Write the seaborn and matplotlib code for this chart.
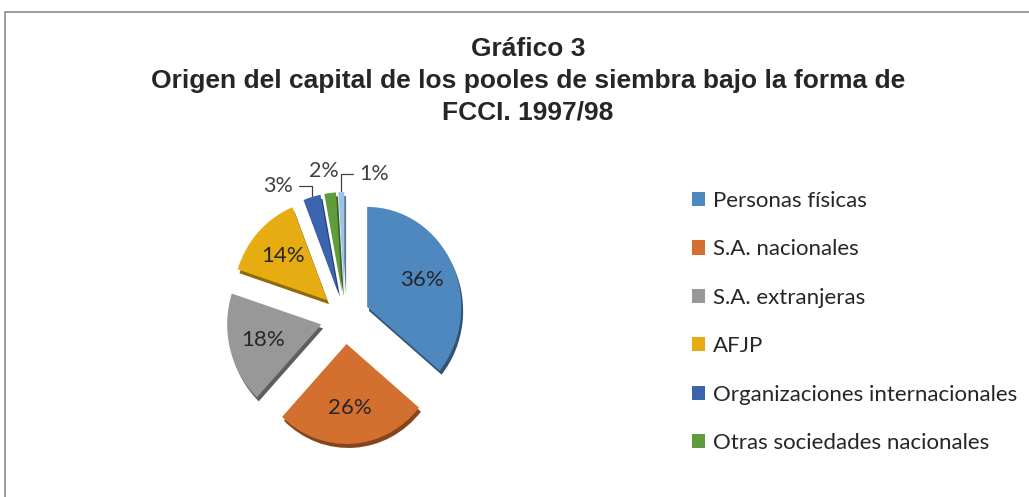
import numpy as np
import matplotlib
matplotlib.use("Agg")
import matplotlib.pyplot as plt
import matplotlib.colors as mcolors
from matplotlib.patches import Rectangle
import seaborn as sns

# data
categories = ["Personas físicas", "S.A. nacionales", "S.A. extranjeras", "AFJP",
              "Organizaciones internacionales", "Otras sociedades nacionales", "Otros"]
shares = [36, 26, 18, 14, 3, 2, 1]
colors = ["#4F88BE", "#D4702F", "#989898", "#E6AC12", "#3B63AE", "#5E9C3C", "#9DC3E6"]
title_lines = ["Gráfico 3", "Origen del capital de los pooles de siembra bajo la forma de", "FCCI. 1997/98"]

sns.set_theme(style="white")
plt.rcParams["font.family"] = ["Lato", "DejaVu Sans"]

fig = plt.figure(figsize=(10.29, 4.97), dpi=100)
fig.patch.set_facecolor("white")

# outer chart frame (runs off the right and bottom edges)
fig.patches.append(Rectangle((5 / 1029, -0.1), 1.2, (497 - 12) / 497 + 0.1,
                             transform=fig.transFigure, fill=False,
                             edgecolor="#8c8c8c", linewidth=1.2))

fig.text(0.513, 1 - 81 / 497, "\n".join(title_lines), ha="center", va="center",
         fontsize=19, fontweight="bold", linespacing=1.4,
         family=["Liberation Sans Narrow", "Liberation Sans", "DejaVu Sans"])

ax = fig.add_axes([185 / 1029, 19 / 497, 320 / 1029, 320 / 497])
ax.axis("off")

explode = [0.26] * len(shares)

# darker copy shifted down to fake the 3D depth
dark = [tuple(np.array(mcolors.to_rgb(c)) * 0.62) for c in colors]
ax.pie(shares, colors=dark, explode=explode, startangle=90, counterclock=False,
       center=(0.02, -0.04), wedgeprops=dict(linewidth=0))

wedges, _ = ax.pie(shares, colors=colors, explode=explode, startangle=90,
                   counterclock=False, wedgeprops=dict(linewidth=0))

ax.set_xlim(-1.70, 1.70)
ax.set_ylim(-1.60, 1.60)
ax.set_aspect("auto")

# percentage labels
small_text = {4: (-0.71, 1.32), 5: (-0.22, 1.47), 6: (0.31, 1.44)}
for i, (w, v) in enumerate(zip(wedges, shares)):
    mid = np.deg2rad((w.theta1 + w.theta2) / 2)
    cx, cy = w.center
    if i in small_text:
        tx, ty = small_text[i]
        xy = (cx + w.r * np.cos(mid), cy + w.r * np.sin(mid))
        arrow = None
        if i != 5:
            arrow = dict(arrowstyle="-", color="#404040", lw=0.9, shrinkA=2, shrinkB=1,
                         connectionstyle="angle,angleA=0,angleB=90,rad=0")
        ax.annotate(f"{v}%", xy=xy, xytext=(tx, ty), ha="center", va="center",
                    fontsize=15.5, color="#404040", arrowprops=arrow)
    else:
        ax.text(cx + 0.64 * np.cos(mid), cy + 0.64 * np.sin(mid), f"{v}%",
                ha="center", va="center", fontsize=16, color="#262626")

# legend (first six entries, the last one does not fit)
handles = [Rectangle((0, 0), 1, 1, facecolor=c, edgecolor="none") for c in colors[:6]]
fig.legend(handles, categories[:6], loc="upper left",
           bbox_to_anchor=(683 / 1029, 1 - 182 / 497), frameon=False,
           fontsize=16, labelspacing=1.28, handlelength=0.6, handleheight=0.6,
           handletextpad=0.35, borderaxespad=0, labelcolor="#262626")

fig.savefig("out.png", dpi=100, facecolor="white")
